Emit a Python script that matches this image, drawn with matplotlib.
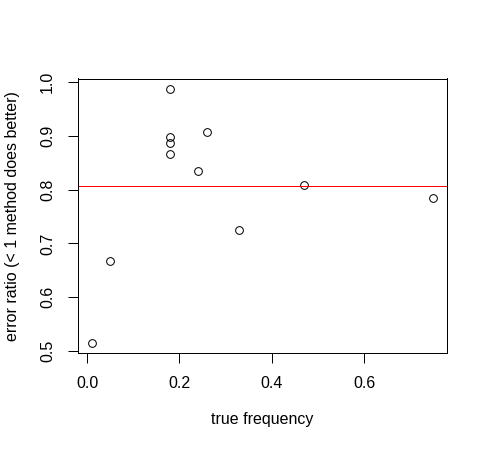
import matplotlib
matplotlib.use("Agg")
import matplotlib.pyplot as plt
import numpy as np

true_freq = [0.01, 0.05, 0.18, 0.18, 0.18, 0.18, 0.26, 0.24, 0.33, 0.47, 0.75]
error_ratio = [0.515, 0.668, 0.988, 0.898, 0.886, 0.866, 0.908, 0.835, 0.725, 0.808, 0.785]
mean_line = 0.807
xticks = [0.0, 0.2, 0.4, 0.6]
yticks = [0.5, 0.6, 0.7, 0.8, 0.9, 1.0]

plt.rcParams['font.family'] = ['Liberation Sans', 'DejaVu Sans']
DPI = 96
fig = plt.figure(figsize=(488 / DPI, 452 / DPI), dpi=DPI)
ax = fig.add_axes([78 / 488, (452 - 353) / 452, (447 - 78) / 488, (353 - 78.5) / 452])

ax.plot(true_freq, error_ratio, linestyle='none', marker='o', markersize=5.8,
        markerfacecolor='none', markeredgecolor='black', markeredgewidth=0.75)
ax.axhline(mean_line, color='#FF0000', linewidth=0.75)

xr = max(true_freq) - min(true_freq)
yr = max(error_ratio) - min(error_ratio)
ax.set_xlim(min(true_freq) - 0.04 * xr, max(true_freq) + 0.04 * xr)
ax.set_ylim(min(error_ratio) - 0.04 * yr, max(error_ratio) + 0.04 * yr)

ax.set_xticks(xticks)
ax.set_xticklabels([f"{v:.1f}" for v in xticks])
ax.set_yticks(yticks)
ax.set_yticklabels([f"{v:.1f}" for v in yticks], rotation=90, va='center')

ax.tick_params(direction='out', length=7.2, width=0.75, colors='black', labelsize=12, pad=10)
for s in ax.spines.values():
    s.set_linewidth(0.75)
    s.set_color('black')

ax.set_xlabel('true frequency', fontsize=12, labelpad=16)
ax.set_ylabel('error ratio (< 1 method does better)', fontsize=12, labelpad=15)

fig.savefig('out.png', dpi=DPI)
